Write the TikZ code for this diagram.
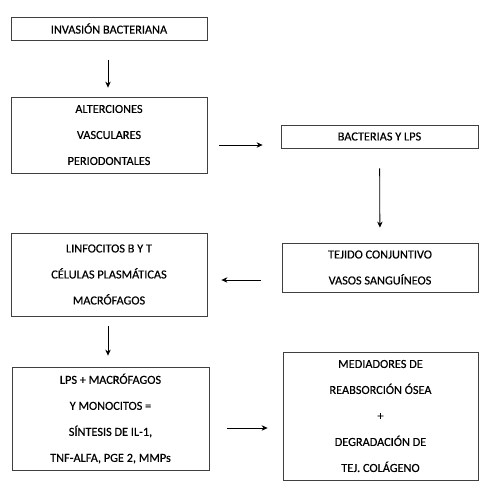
\documentclass[tikz,border=0pt]{standalone}
\usepackage{fontspec}
\setmainfont{Carlito}[UprightFeatures={FakeBold=0.4}]
\usepackage{tikz}
\usetikzlibrary{arrows, arrows.meta}

\begin{document}
\begin{tikzpicture}[x=1pt, y=-1pt,
    caja/.style={draw=black!75, line width=0.8pt, rectangle, align=center, inner sep=0pt,
                 font=\fontsize{12.3}{26}\selectfont},
    flecha/.style={->, >={Stealth[length=6pt, width=5.5pt]}, line width=0.8pt}]
            \useasboundingbox[fill=white] (0,0) rectangle (488,488);

            \node[caja, minimum width=196pt, minimum height=23pt]  (invasion)     at (109, 28.5)  {INVASIÓN BACTERIANA};
            \node[caja, minimum width=196pt, minimum height=76pt]  (alteraciones) at (109, 135)   {ALTERCIONES\\VASCULARES\\PERIODONTALES};
            \node[caja, minimum width=197pt, minimum height=23pt]  (bacterias)    at (379.5, 136.5) {BACTERIAS Y LPS};
            \node[caja, minimum width=196pt, minimum height=49pt]  (tejido)       at (380, 267.5) {TEJIDO CONJUNTIVO\\VASOS SANGUÍNEOS};
            \node[caja, minimum width=196pt, minimum height=83pt]  (linfocitos)   at (109, 274.5) {LINFOCITOS B Y T\\CÉLULAS PLASMÁTICAS\\MACRÓFAGOS};
            \node[caja, minimum width=197pt, minimum height=103pt] (lps)          at (110.5, 418.5) {LPS + MACRÓFAGOS\\Y MONOCITOS =\\SÍNTESIS DE IL-1,\\TNF-ALFA, PGE 2, MMPs};
            \node[caja, minimum width=195pt, minimum height=128pt] (mediadores)   at (380.5, 416) {MEDIADORES DE\\REABSORCIÓN ÓSEA\\+\\DEGRADACIÓN DE\\TEJ. COLÁGENO};

            \draw[flecha, shorten <=20pt, shorten >=9pt] ([xshift=-1pt]invasion.south) -- ([xshift=-1pt]alteraciones.north);
            \draw[flecha, shorten <=12pt, shorten >=18pt] ([yshift=-10pt]alteraciones.east) -- ([yshift=-10pt]alteraciones.east -| bacterias.west);
            \draw[flecha, shorten <=20pt, shorten >=15pt] (bacterias.south) -- (tejido.north);
            \draw[flecha, shorten <=21pt, shorten >=14pt] ([yshift=-12.5pt]tejido.west) -- ([yshift=-12.5pt]tejido.west -| linfocitos.east);
            \draw[flecha, shorten <=10pt, shorten >=11pt] ([xshift=-1pt]linfocitos.south) -- ([xshift=-1pt]linfocitos.south |- lps.north);
            \draw[flecha, shorten <=18pt, shorten >=15pt] ([yshift=-9.5pt]lps.east) -- ([yshift=-9.5pt]lps.east -| mediadores.west);
\end{tikzpicture}
\end{document}
